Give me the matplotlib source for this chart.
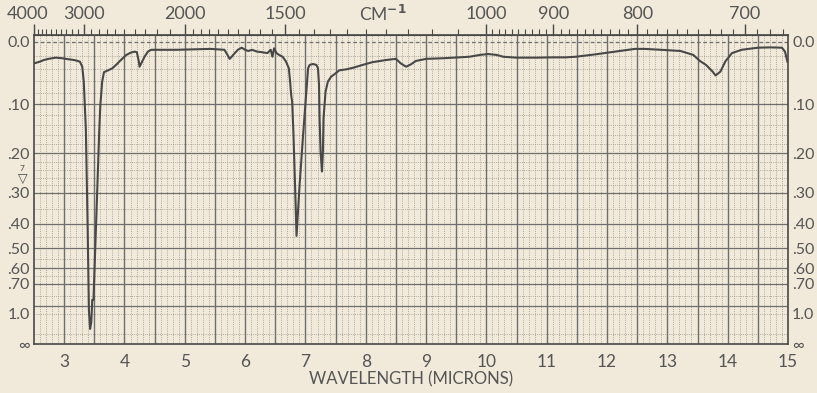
import numpy as np
import matplotlib
matplotlib.use("Agg")
import matplotlib.pyplot as plt
import matplotlib.transforms as mtransforms

# ---------------- data ----------------
wavelength_um = [
    2.50, 2.60, 2.66, 2.74, 2.86, 2.97, 3.06, 3.17, 3.26, 3.30, 3.325, 3.36,
    3.39, 3.41, 3.43, 3.45, 3.466, 3.486, 3.508, 3.543, 3.582, 3.60, 3.63,
    3.66, 3.74, 3.80, 3.86, 3.94, 4.03, 4.11, 4.17, 4.205, 4.238, 4.25,
    4.277, 4.333, 4.388, 4.443, 4.86, 5.43, 5.657, 5.708, 5.743, 5.777,
    5.828, 5.88, 5.943, 6.0, 6.051, 6.114, 6.198, 6.283, 6.368, 6.424,
    6.453, 6.48, 6.52, 6.564, 6.622, 6.678, 6.724, 6.746, 6.763, 6.78,
    6.802, 6.819, 6.836, 6.852, 6.903, 6.961, 7.005, 7.028, 7.044, 7.07,
    7.126, 7.18, 7.208, 7.225, 7.234, 7.251, 7.274, 7.29, 7.30, 7.333,
    7.372, 7.426, 7.48, 7.56, 7.67, 7.78, 7.95, 8.11, 8.33, 8.50, 8.58,
    8.67, 8.75, 8.83, 9.00, 9.28, 9.56, 9.72, 9.89, 10.03, 10.17, 10.28,
    10.50, 10.83, 11.11, 11.32, 11.48, 11.81, 12.13, 12.46, 12.62, 12.90,
    13.22, 13.43, 13.54, 13.64, 13.75, 13.80, 13.88, 13.96, 14.07, 14.23,
    14.50, 14.71, 14.90, 14.95, 14.99,
]
transmittance_pct = [
    92.9, 93.5, 94.0, 94.4, 94.8, 94.6, 94.3, 94.0, 93.5, 91.8, 86.9, 70.9,
    37.7, 11.3, 5.0, 7.3, 14.6, 14.6, 27.8, 47.7, 70.9, 79.1, 86.8,
    90.0, 90.7, 91.3, 92.4, 94.0, 95.7, 96.5, 96.8, 96.6, 93.5, 91.8,
    92.9, 95.1, 96.8, 97.4, 97.4, 97.7, 97.4, 95.7, 94.4, 95.1,
    96.3, 97.4, 98.1, 97.4, 97.0, 97.4, 96.8, 96.6, 96.3, 97.4,
    95.1, 97.9, 96.3, 95.7, 95.1, 93.5, 91.3, 86.9, 82.5, 80.2,
    69.2, 58.3, 47.1, 35.8, 52.6, 69.2, 80.8, 86.9, 91.3, 92.4,
    92.7, 92.4, 91.3, 85.8, 74.8, 63.7, 57.1, 63.7, 74.8, 83.5,
    86.9, 88.5, 89.3, 90.6, 90.9, 91.4, 92.4, 93.3, 94.0, 94.4, 92.9,
    91.8, 92.6, 93.7, 94.4, 94.6, 94.9, 95.1, 95.7, 96.0, 95.7, 95.1,
    94.8, 94.8, 94.9, 94.9, 95.1, 95.9, 96.8, 97.7, 97.7, 97.4,
    97.0, 95.7, 93.7, 92.4, 90.2, 88.9, 90.2, 93.5, 96.3, 97.4,
    98.1, 98.2, 98.1, 96.8, 93.5,
]

wavelength_ticks = list(range(3, 16))
wavenumber_major = [4000, 3000, 2000, 1500, 1000, 900, 800, 700]
wavenumber_minor = (list(range(4000, 2000, -100)) + list(range(2000, 1000, -50))
                    + list(range(1000, 640, -10)))
absorbance_ticks = [0.0, 0.1, 0.2, 0.3, 0.4, 0.5, 0.6, 0.7, 1.0, np.inf]
absorbance_labels = ["0.0", ".10", ".20", ".30", ".40", ".50", ".60", ".70", "1.0", "\u221e"]
absorbance_major_grid = [0.1, 0.2, 0.3, 0.4, 0.5, 0.6, 0.7, 0.9]
absorbance_minor_grid = ([0.02, 0.04, 0.06, 0.08, 0.12, 0.14, 0.16, 0.18, 0.22, 0.24,
                          0.26, 0.28, 0.35, 0.45, 0.55, 0.65, 0.8, 1.0, 1.5])

# ---------------- style ----------------
paper = "#f1eada"
ink = "#484848"
grid_ink = "#6e6e6e"
text_ink = "#555555"
font = ["Lato", "DejaVu Sans"]
plt.rcParams["font.family"] = font
plt.rcParams["mathtext.fontset"] = "dejavusans"


def to_T(a):
    return 100.0 * 10.0 ** (-np.asarray(a, dtype=float))


fig = plt.figure(figsize=(8.17, 3.93), dpi=100, facecolor=paper)
ax = fig.add_axes([34 / 817, 1 - 344 / 393, 754 / 817, 309 / 393])
ax.set_facecolor(paper)
ax.set_xlim(2.5, 15.0)
ax.set_ylim(0.0, 102.3)

# paper grid
for v in np.arange(2.6, 15.0, 0.1):
    ax.axvline(v, color="#98948a", lw=0.6, ls=(0, (1, 1.6)), zorder=1)
for v in np.arange(3.0, 15.0, 0.5):
    ax.axvline(v, color=grid_ink, lw=1.0, zorder=2)
for a in absorbance_minor_grid:
    ax.axhline(to_T(a), color="#98948a", lw=0.6, ls=(0, (1, 1.6)), zorder=1)
for a in absorbance_major_grid:
    ax.axhline(to_T(a), color=grid_ink, lw=0.9, zorder=2)
ax.axhline(to_T(0.0), color=grid_ink, lw=0.9, ls=(0, (3, 2)), zorder=2)

# spectrum
ax.plot(wavelength_um, transmittance_pct, color=ink, lw=1.5,
        solid_joinstyle="round", zorder=5)

for s in ax.spines.values():
    s.set_color(ink)
    s.set_linewidth(1.2)

# bottom (wavelength) axis
ax.set_xticks(wavelength_ticks)
ax.set_xticklabels([str(t) for t in wavelength_ticks])
ax.tick_params(axis="x", bottom=True, length=0, pad=7, labelsize=12.5,
               labelcolor=text_ink)
ax.set_xlabel("WAVELENGTH (MICRONS)", fontsize=12, color=text_ink, labelpad=1)

# absorbance axes, left and right
ax.set_yticks(to_T(absorbance_ticks))
ax.set_yticklabels(absorbance_labels)
ax.tick_params(axis="y", left=True, right=True, labelleft=True, labelright=True,
               length=0, pad=3, labelsize=11.5, labelcolor=text_ink)


# top wavenumber ruler
def lam_to_nu(x):
    x = np.asarray(x, dtype=float)
    return 1e4 / np.where(np.abs(x) < 1e-9, 1e-9, x)


secax = ax.secondary_xaxis("top", functions=(lam_to_nu, lam_to_nu))
secax.set_xticks(wavenumber_major)
secax.set_xticklabels([str(t) for t in wavenumber_major])
secax.set_xticks(wavenumber_minor, minor=True)
secax.tick_params(which="major", direction="out", length=8, width=1.0,
                  color=ink, pad=1, labelsize=13, labelcolor=text_ink)
secax.tick_params(which="minor", direction="out", length=4, width=0.8, color=ink)
secax.spines["top"].set_color(ink)
fig.canvas.draw()
first = secax.get_xticklabels()[0]
first.set_transform(first.get_transform()
                    + mtransforms.ScaledTranslation(-6 / 100, 0, fig.dpi_scale_trans))

fig.text(383 / 817, 1 - 14 / 393, r"CM$^{\mathbf{-1}}$", ha="center", va="center",
         fontsize=12.5, color=text_ink)

# pen marker on the left margin
fig.text(23 / 817, 1 - 179 / 393, "\u25bd", ha="center", va="center",
         fontsize=9, color=ink, family=["DejaVu Sans"])
fig.text(22 / 817, 1 - 168 / 393, "7", ha="center", va="center",
         fontsize=6, color=ink)

fig.savefig("out.png", dpi=100, facecolor=paper)
